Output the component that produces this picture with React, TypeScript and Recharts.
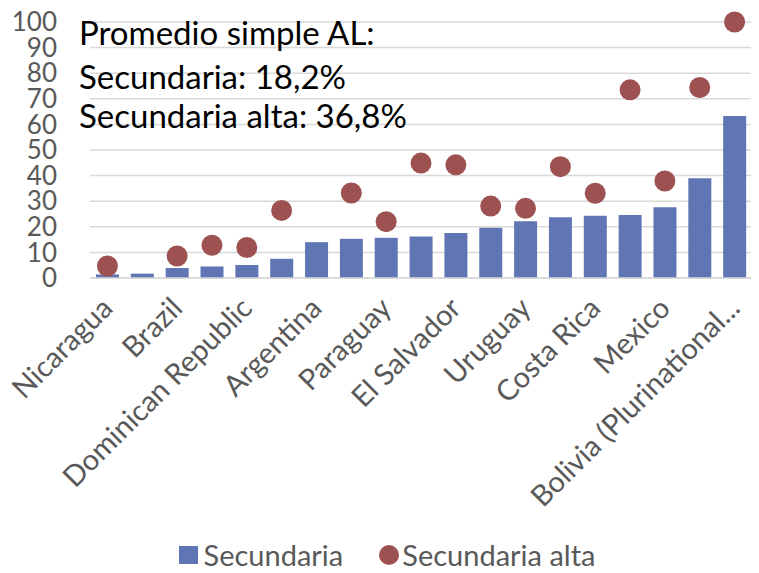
import React from "react";
import { ComposedChart, Bar, Line, XAxis, YAxis, CartesianGrid, Legend } from "recharts";

const categories = [
  "Nicaragua", "Guatemala", "Brazil", "Honduras", "Dominican Republic", "Colombia",
  "Argentina", "Ecuador", "Paraguay", "Panama", "El Salvador", "Peru", "Uruguay",
  "Chile", "Costa Rica", "Venezuela", "Mexico", "Cuba", "Bolivia (Plurinational State of)",
];
const secundaria = [1.4, 1.7, 3.9, 4.5, 5.1, 7.5, 14.0, 15.3, 15.7, 16.2, 17.6, 19.6, 22.2, 23.7, 24.3, 24.6, 27.6, 39.0, 63.3];
const secundariaAlta: (number | null)[] = [4.7, null, 8.6, 12.8, 11.9, 26.4, null, 33.2, 22.0, 44.9, 44.2, 28.1, 27.2, 43.5, 33.1, 73.5, 37.9, 74.4, 100];
const yTicks = [0, 10, 20, 30, 40, 50, 60, 70, 80, 90, 100];
const annotationLines = ["Promedio simple AL:", "Secundaria: 18,2%", "Secundaria alta: 36,8%"];

const data = categories.map((name, i) => ({ name, sec: secundaria[i], alta: secundariaAlta[i] }));

const FONT = "Lato, 'Open Sans', sans-serif";
const BLUE = "#6076b4";
const RED = "#9e5151";
const GRAY = "#595959";

const fmt = (s: string) => (s.length > 24 ? s.slice(0, 22) + "..." : s);

const XTick = (props: any) => {
  const { x, y, payload } = props;
  const ax = x + 7;
  const ay = y + 32;
  return (
    <text
      x={ax}
      y={ay}
      transform={`rotate(-45 ${ax} ${ay})`}
      textAnchor="end"
      fill={GRAY}
      fontSize={29}
      fontFamily={FONT}
    >
      {fmt(payload.value)}
    </text>
  );
};

const Dot = (props: any) => {
  const { cx, cy, payload } = props;
  if (payload == null || payload.alta == null || cy == null || isNaN(cy)) return null;
  return <circle cx={cx} cy={cy} r={10.5} fill={RED} />;
};

const LegendContent = () => (
  <div
    style={{
      display: "flex",
      justifyContent: "center",
      alignItems: "center",
      fontFamily: FONT,
      fontSize: 29,
      color: GRAY,
      paddingTop: 5,
      paddingLeft: 22,
      lineHeight: "34px",
    }}
  >
    <span style={{ display: "inline-block", width: 19, height: 18, background: BLUE, marginRight: 6 }} />
    <span style={{ marginRight: 36 }}>Secundaria</span>
    <span style={{ display: "inline-block", width: 20, height: 20, borderRadius: 10, background: RED, marginRight: 3 }} />
    <span>Secundaria alta</span>
  </div>
);

export default function App() {
  return (
    <div style={{ position: "relative", width: 759, height: 573, marginLeft: -8, marginTop: -8, background: "#fff" }}>
      <ComposedChart
        width={759}
        height={573}
        data={data}
        margin={{ top: 22, right: 7, left: 0, bottom: 0 }}
        barSize={23}
      >
        <CartesianGrid vertical={false} stroke="#d9d9d9" strokeWidth={1.5} />
        <XAxis
          dataKey="name"
          interval={1}
          tick={<XTick />}
          tickLine={false}
          tickSize={0}
          tickMargin={0}
          axisLine={{ stroke: "#d9d9d9", strokeWidth: 1.5 }}
          height={255}
        />
        <YAxis
          domain={[0, 100]}
          ticks={yTicks}
          interval={0}
          width={90}
          axisLine={false}
          tickLine={false}
          tickSize={0}
          tickMargin={33}
          tick={{ fill: GRAY, fontSize: 26, fontFamily: FONT }}
        />
        <Bar dataKey="sec" name="Secundaria" fill={BLUE} isAnimationActive={false} />
        <Line
          dataKey="alta"
          name="Secundaria alta"
          stroke="none"
          dot={<Dot />}
          activeDot={false}
          isAnimationActive={false}
        />
        <Legend verticalAlign="bottom" content={<LegendContent />} wrapperStyle={{ height: 40 }} />
      </ComposedChart>
      <div style={{ position: "absolute", left: 79, top: 0, fontFamily: FONT, fontSize: 33, color: "#000", pointerEvents: "none" }}>
        {annotationLines.map((t, i) => (
          <div
            key={i}
            style={{ position: "absolute", left: 0, top: [12, 56, 95][i], whiteSpace: "nowrap", lineHeight: "40px" }}
          >
            {t}
          </div>
        ))}
      </div>
    </div>
  );
}
